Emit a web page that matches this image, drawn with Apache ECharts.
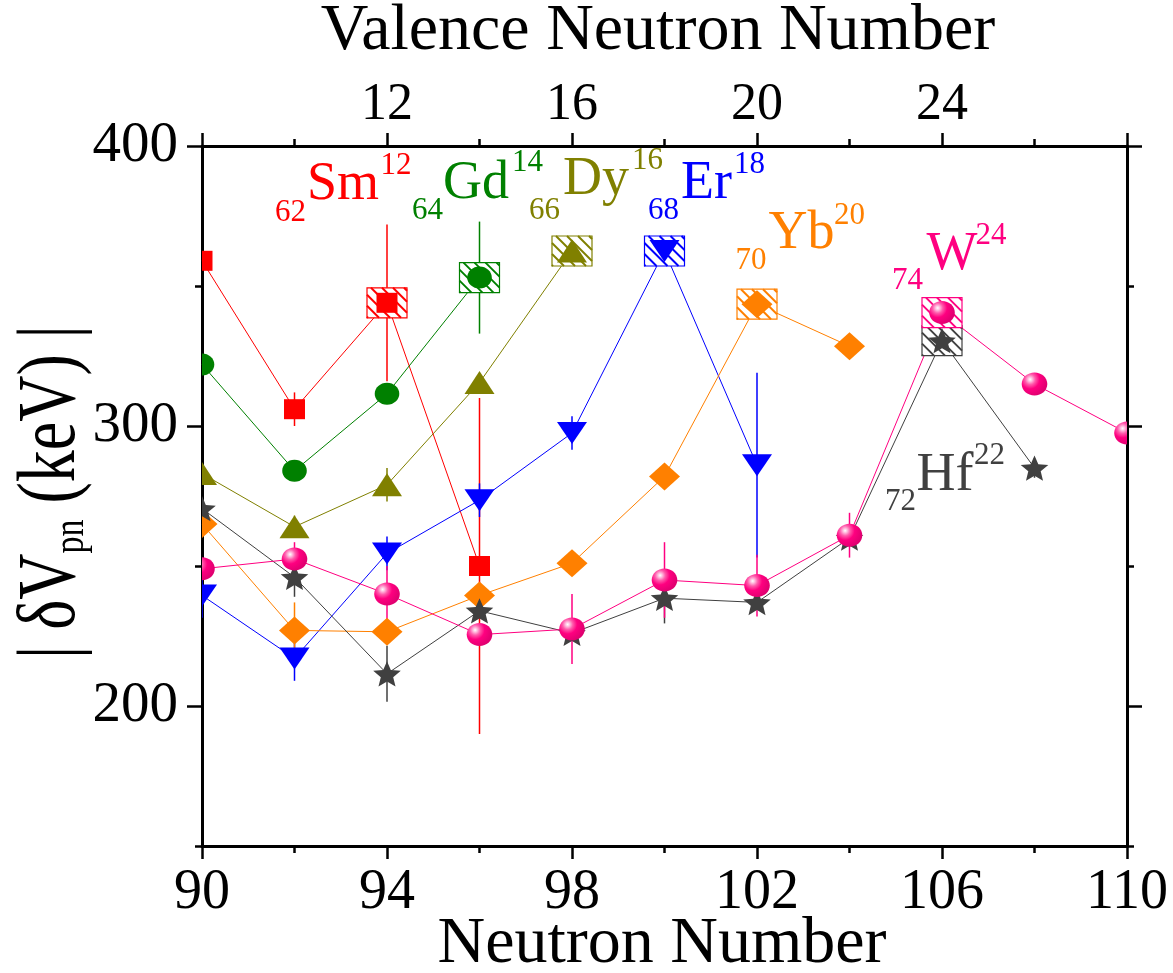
<!DOCTYPE html>
<html><head><meta charset="utf-8">
<script src="https://cdn.jsdelivr.net/npm/echarts@6/dist/echarts.min.js"></script>
<style>html,body{margin:0;padding:0;background:#fff}#chart{width:1173px;height:973px}</style>
</head><body><div id="chart"></div>
<script>
// ---------------- data ----------------
const smN = [90, 92, 94, 96];
const smV = [359, 306, 344, 250];
const smE = [0, 6, 28, 60];

const gdN = [90, 92, 94, 96];
const gdV = [322, 284, 311.5, 353];
const gdE = [0, 0, 0, 20];

const dyN = [90, 92, 94, 96, 98];
const dyV = [283, 264, 279, 315.5, 362.5];
const dyE = [0, 4, 6, 0, 0];

const erN = [90, 92, 94, 96, 98, 100, 102];
const erV = [239.5, 217, 254.5, 273.5, 297.5, 362.5, 286];
const erE = [8, 8, 6, 6, 6, 0, 33];

const ybN = [90, 92, 94, 96, 98, 100, 102, 104];
const ybV = [265, 227, 226.5, 239.5, 251, 282, 343.5, 328.5];
const ybE = [0, 10, 0, 0, 0, 0, 0, 0];

const hfN = [90, 92, 94, 96, 98, 100, 102, 104, 106, 108];
const hfV = [270.5, 246, 211.5, 234, 226, 238.5, 237, 260, 330.5, 285];
const hfE = [0, 7, 10, 0, 0, 9, 0, 0, 0, 3.5];

const wN = [90, 92, 94, 96, 98, 100, 102, 104, 106, 108, 110];
const wV = [249, 252.5, 240, 225.5, 227.5, 245, 243, 261, 340.5, 315, 297.5];
const wE = [0, 6, 10, 0, 12.5, 13.5, 11, 8, 0, 0, 0];

// highlighted (mid-shell) points
const boxEl = ['Sm', 'Gd', 'Dy', 'Er', 'Yb', 'Hf', 'W'];
const boxN = [94, 96, 98, 100, 102, 106, 106];
const boxV = [344, 353, 362.5, 362.5, 343.5, 330.5, 340.5];

// ticks
const xMajor = [90, 94, 98, 102, 106, 110];
const xMinor = [92, 96, 100, 104, 108];
const topMajor = [8, 12, 16, 20, 24, 28];
const topLabels = [12, 16, 20, 24];
const topMinor = [10, 14, 18, 22, 26];
const yMajor = [200, 300, 400];
const yMinor = [150, 250, 350];

// ---------------- styling ----------------
const FONT = 'Liberation Serif';
const COLORS = {Sm: '#FF0000', Gd: '#008000', Dy: '#808000', Er: '#0000FF', Yb: '#FF8000', Hf: '#404040', W: '#FF0080'};
const elements = [
  {name: 'Sm', N: smN, V: smV, E: smE, kind: 'square'},
  {name: 'Gd', N: gdN, V: gdV, E: gdE, kind: 'circle'},
  {name: 'Dy', N: dyN, V: dyV, E: dyE, kind: 'up'},
  {name: 'Er', N: erN, V: erV, E: erE, kind: 'down'},
  {name: 'Yb', N: ybN, V: ybV, E: ybE, kind: 'diamond'},
  {name: 'Hf', N: hfN, V: hfV, E: hfE, kind: 'star'},
  {name: 'W', N: wN, V: wV, E: wE, kind: 'sphere'}
];

function starPoints(cx, cy, rx, ry, inner) {
  const pts = [];
  for (let i = 0; i < 10; i++) {
    const a = -Math.PI / 2 + i * Math.PI / 5;
    const r = (i % 2 === 0) ? 1 : inner;
    pts.push([cx + rx * r * Math.cos(a), cy + ry * r * Math.sin(a) + ry * 0.1]);
  }
  return pts;
}

function makeMarker(kind, p, color) {
  const x = p[0], y = p[1];
  switch (kind) {
    case 'square':
      return {type: 'rect', shape: {x: x - 10.5, y: y - 10, width: 21, height: 20}, style: {fill: color}};
    case 'circle':
      return {type: 'ellipse', shape: {cx: x, cy: y, rx: 12.3, ry: 11}, style: {fill: color}};
    case 'up':
      return {type: 'polygon', shape: {points: [[x, y - 11.5], [x + 15, y + 11.5], [x - 15, y + 11.5]]}, style: {fill: color}};
    case 'down':
      return {type: 'polygon', shape: {points: [[x - 15, y - 11], [x + 15, y - 11], [x, y + 11]]}, style: {fill: color}};
    case 'diamond':
      return {type: 'polygon', shape: {points: [[x, y - 14], [x + 15.5, y], [x, y + 14], [x - 15.5, y]]}, style: {fill: color}};
    case 'star':
      return {type: 'polygon', shape: {points: starPoints(x, y, 14.5, 14, 0.45)}, style: {fill: color}};
    case 'sphere':
      return {type: 'ellipse', shape: {cx: x, cy: y, rx: 12.8, ry: 11.5},
        style: {fill: new echarts.graphic.RadialGradient(0.33, 0.3, 0.75, [
          {offset: 0, color: '#ffffff'},
          {offset: 0.12, color: '#ffc0e0'},
          {offset: 0.3, color: '#ff5aab'},
          {offset: 0.55, color: '#ff0080'},
          {offset: 1, color: '#e00070'}
        ])}};
  }
}

function boxItem(p, color) {
  const w = 40, h = 30, x0 = p[0] - w / 2, y0 = p[1] - h / 2;
  const ch = [{type: 'rect', shape: {x: x0, y: y0, width: w, height: h}, style: {fill: '#fff', stroke: color, lineWidth: 1.2}}];
  for (let k = -w + 3; k < h; k += 11) {
    const xs = Math.max(0, -k), xe = Math.min(w, h - k);
    if (xe > xs) ch.push({type: 'line', shape: {x1: x0 + xs, y1: y0 + xs + k, x2: x0 + xe, y2: y0 + xe + k}, style: {stroke: color, lineWidth: 2}});
  }
  return {type: 'group', children: ch};
}

const series = [];
elements.forEach(el => {
  const c = COLORS[el.name];
  series.push({
    type: 'line', name: el.name, data: el.N.map((n, i) => [n, el.V[i]]),
    showSymbol: false, symbol: 'none', z: 2, silent: true,
    lineStyle: {color: c, width: 1}
  });
});
elements.forEach(el => {
  const c = COLORS[el.name];
  const d = [];
  el.N.forEach((n, i) => { if (el.E[i] > 0) d.push([n, el.V[i], el.E[i]]); });
  series.push({
    type: 'custom', name: el.name + ' err', data: d, z: 3, clip: true, silent: true,
    renderItem: function (params, api) {
      const n = api.value(0), v = api.value(1), e = api.value(2);
      const a = api.coord([n, v - e]), b = api.coord([n, v + e]);
      return {type: 'line', shape: {x1: a[0], y1: a[1], x2: b[0], y2: b[1]}, style: {stroke: c, lineWidth: 1.5}};
    }
  });
});
series.push({
  type: 'custom', name: 'boxes', data: boxN.map((n, i) => [n, boxV[i]]), z: 4, clip: true, silent: true,
  renderItem: function (params, api) {
    const p = api.coord([api.value(0), api.value(1)]);
    return boxItem(p, COLORS[boxEl[params.dataIndex]]);
  }
});
elements.forEach((el, k) => {
  const c = COLORS[el.name];
  series.push({
    type: 'custom', name: el.name + ' pts', data: el.N.map((n, i) => [n, el.V[i]]), z: 5 + k * 0.01, clip: true, silent: true,
    renderItem: function (params, api) {
      const p = api.coord([api.value(0), api.value(1)]);
      return makeMarker(el.kind, p, c);
    }
  });
});

// ---------------- annotation text ----------------
// [text, left, baseline, fontSize, color]
const textSpecs = [
  ['62', 275, 223.3, 31, COLORS.Sm], ['Sm', 307, 203.3, 54, COLORS.Sm], ['12', 380.5, 176.7, 31, COLORS.Sm],
  ['64', 412, 221.7, 31, COLORS.Gd], ['Gd', 443, 201.7, 54, COLORS.Gd], ['14', 512, 173.3, 31, COLORS.Gd],
  ['66', 529, 221, 31, COLORS.Dy], ['Dy', 563, 198.3, 54, COLORS.Dy], ['16', 632, 171.7, 31, COLORS.Dy],
  ['68', 648, 221.7, 31, COLORS.Er], ['Er', 681, 201.7, 54, COLORS.Er], ['18', 734, 175, 31, COLORS.Er],
  ['70', 735.5, 271.7, 31, COLORS.Yb], ['Yb', 768.5, 251.7, 54, COLORS.Yb], ['20', 834, 226, 31, COLORS.Yb],
  ['74', 892, 291.7, 31, COLORS.W], ['W', 926.5, 272.7, 54, COLORS.W], ['24', 975.5, 246.7, 31, COLORS.W],
  ['72', 885, 512.7, 31, COLORS.Hf], ['Hf', 916.5, 494, 54, COLORS.Hf], ['22', 974, 466, 31, COLORS.Hf]
];
const MID = 0.3375;
const graphics = textSpecs.map(t => ({
  type: 'text', x: t[1], y: t[2] - MID * t[3], silent: true, z: 50,
  style: {text: t[0], fill: t[4], fontSize: t[3], fontFamily: FONT, align: 'left', verticalAlign: 'middle'}
}));
graphics.push({
  type: 'text', x: 658, y: 54 - MID * 66, silent: true, z: 50,
  style: {text: 'Valence Neutron Number', fill: '#000', fontSize: 66, fontFamily: FONT, align: 'center', verticalAlign: 'middle'}
});
graphics.push({
  type: 'text', x: 662, y: 967 - MID * 66, silent: true, z: 50,
  style: {text: 'Neutron Number', fill: '#000', fontSize: 66, fontFamily: FONT, align: 'center', verticalAlign: 'middle'}
});
graphics.push({
  type: 'text', x: 52, y: 492, rotation: Math.PI / 2, scaleY: 1.3, silent: true, z: 50,
  style: {
    text: '| δV{sub|pn} (keV) |', fill: '#000', fontSize: 64, fontFamily: FONT, align: 'center', verticalAlign: 'middle',
    rich: {sub: {fontSize: 34, fontFamily: FONT, fill: '#000', verticalAlign: 'bottom'}}
  }
});

// ---------------- axes ----------------
const AX = {color: '#000', width: 3};
const TK = {color: '#000', width: 2.5};
function axisBase(extra) {
  return Object.assign({
    type: 'value', splitLine: {show: false}, axisLine: {show: false, onZero: false},
    axisLabel: {show: false}, axisTick: {show: false}
  }, extra);
}
const xAxis = [
  axisBase({position: 'bottom', min: 90, max: 110,
    axisLine: {show: true, onZero: false, lineStyle: AX},
    axisTick: {show: true, inside: false, length: 13, lineStyle: TK, customValues: xMajor},
    axisLabel: {show: true, customValues: xMajor, fontSize: 56, fontFamily: FONT, color: '#000', margin: 19}}),
  axisBase({position: 'bottom', min: 90, max: 110,
    axisTick: {show: true, inside: false, length: 7, lineStyle: TK, customValues: xMinor}}),
  axisBase({position: 'top', min: 8, max: 28,
    axisLine: {show: true, onZero: false, lineStyle: AX},
    axisTick: {show: true, inside: false, length: 13, lineStyle: TK, customValues: topMajor},
    axisLabel: {show: true, customValues: topLabels, fontSize: 52, fontFamily: FONT, color: '#000', margin: 15}}),
  axisBase({position: 'top', min: 8, max: 28,
    axisTick: {show: true, inside: false, length: 7, lineStyle: TK, customValues: topMinor}})
];
const yAxis = [
  axisBase({position: 'left', min: 150, max: 400,
    axisLine: {show: true, onZero: false, lineStyle: AX},
    axisTick: {show: true, inside: false, length: 15, lineStyle: TK, customValues: yMajor},
    axisLabel: {show: true, customValues: yMajor, fontSize: 57, fontFamily: FONT, color: '#000', margin: 24}}),
  axisBase({position: 'left', min: 150, max: 400,
    axisTick: {show: true, inside: false, length: 7, lineStyle: TK, customValues: yMinor}}),
  axisBase({position: 'right', min: 150, max: 400,
    axisLine: {show: true, onZero: false, lineStyle: AX},
    axisTick: {show: true, inside: false, length: 15, lineStyle: TK, customValues: yMajor}}),
  axisBase({position: 'right', min: 150, max: 400,
    axisTick: {show: true, inside: false, length: 7, lineStyle: TK, customValues: yMinor}})
];

const chart = echarts.init(document.getElementById('chart'), null, {renderer: 'canvas'});
chart.setOption({
  animation: false,
  backgroundColor: '#fff',
  grid: {left: 202, right: 46, top: 146, bottom: 127, outerBoundsMode: 'none', containLabel: false},
  xAxis: xAxis,
  yAxis: yAxis,
  series: series,
  graphic: {elements: graphics}
});
</script>
</body></html>
